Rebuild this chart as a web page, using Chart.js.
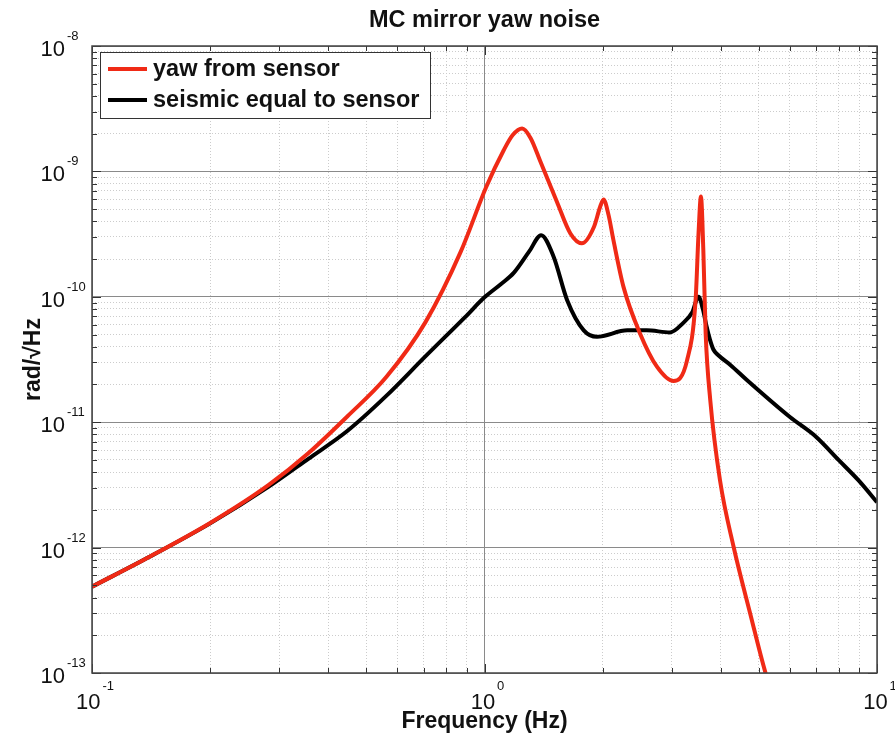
<!DOCTYPE html>
<html>
<head>
<meta charset="utf-8">
<script src="https://cdn.jsdelivr.net/npm/chart.js@4/dist/chart.umd.min.js"></script>
<style>
    body { margin: 0; background: #fff; }
    #wrap { width: 895px; height: 744px; }
</style>
</head>
<body>
<div id="wrap"><canvas id="noise" width="895" height="744"></canvas></div>
<script>
// Donnees (Hz, rad/sqrt(Hz))
const redFreq = [0.1, 0.141, 0.2, 0.282, 0.355, 0.447, 0.562, 0.708, 0.87, 1.01, 1.12, 1.18, 1.247, 1.31, 1.388, 1.53, 1.655, 1.77, 1.9, 1.97, 2.01, 2.07, 2.13, 2.26, 2.49, 2.75, 3.03, 3.28, 3.45, 3.51, 3.56, 3.61, 3.66, 3.76, 3.98, 4.31, 4.75, 5.2, 5.4];
const redVal = [4.88e-13, 8.53e-13, 1.57e-12, 3.16e-12, 5.62e-12, 1.11e-11, 2.29e-11, 6.31e-11, 2.29e-10, 7.5e-10, 1.48e-9, 1.95e-9, 2.2e-9, 1.85e-9, 1.2e-9, 5.7e-10, 3.2e-10, 2.67e-10, 3.6e-10, 5.2e-10, 5.98e-10, 4.5e-10, 2.84e-10, 1.2e-10, 5.1e-11, 2.77e-11, 2.13e-11, 3.1e-11, 9.4e-11, 3.2e-10, 6.3e-10, 2.36e-10, 5.1e-11, 1.5e-11, 3.46e-12, 1.02e-12, 3.0e-13, 1.0e-13, 7e-14];

const blackFreq = [0.1, 0.141, 0.2, 0.282, 0.355, 0.447, 0.562, 0.708, 0.891, 1.0, 1.1, 1.187, 1.3, 1.394, 1.5, 1.624, 1.79, 1.935, 2.31, 2.59, 2.97, 3.21, 3.38, 3.51, 3.6, 3.68, 3.75, 3.83, 3.95, 4.23, 4.66, 6.0, 6.99, 7.98, 9.0, 10];
const blackVal = [4.88e-13, 8.53e-13, 1.56e-12, 3.06e-12, 5.08e-12, 8.5e-12, 1.62e-11, 3.36e-11, 6.85e-11, 9.9e-11, 1.26e-10, 1.55e-10, 2.3e-10, 3.1e-10, 2.09e-10, 9.4e-11, 5.4e-11, 4.8e-11, 5.4e-11, 5.4e-11, 5.2e-11, 6.2e-11, 7.5e-11, 1.0e-10, 8.0e-11, 5.8e-11, 4.6e-11, 3.8e-11, 3.4e-11, 2.86e-11, 2.17e-11, 1.1e-11, 7.66e-12, 5.0e-12, 3.4e-12, 2.3e-12];

const seriesNames = ['yaw from sensor', 'seismic equal to sensor'];
const seriesColors = ['#f02a16', '#000000'];

const xDecades = [-1, 0, 1];
const yDecades = [-13, -12, -11, -10, -9, -8];

const chartTitle = 'MC mirror yaw noise';
const xTitle = 'Frequency (Hz)';
const yTitle = 'rad/\u221AHz';

const FONT = '"Liberation Sans", Arial, sans-serif';

// Graduations 1..9 x 10^n pour une echelle log
function logTicks(decades) {
    const ticks = [];
    for (let i = 0; i < decades.length; i++) {
        const d = decades[i];
        if (i === decades.length - 1) {
            ticks.push({ value: Math.pow(10, d) });
            break;
        }
        for (let m = 1; m <= 9; m++) {
            ticks.push({ value: m * Math.pow(10, d) });
        }
    }
    return ticks;
}

function isDecade(v) {
    const l = Math.log10(v);
    return Math.abs(l - Math.round(l)) < 1e-6;
}

function gridColor(ctx) {
    return ctx.tick && isDecade(ctx.tick.value) ? '#8a8a8a' : '#cccccc';
}

function gridDash(ctx) {
    return ctx.tick && isDecade(ctx.tick.value) ? [] : [1, 2];
}

// Ecrit 10^exp avec exposant sureleve ; x = bord droit du "10" ou centre
function drawPower(ctx, exp, x, y, align, raise) {
    const base = '10';
    const sup = String(exp);
    ctx.font = '22px ' + FONT;
    const wb = ctx.measureText(base).width;
    ctx.font = '13px ' + FONT;
    const ws = ctx.measureText(sup).width;
    let left;
    if (align === 'right') left = x - wb;
    else left = x - (wb + ws + 2) / 2 + 3;
    ctx.textAlign = 'left';
    ctx.textBaseline = 'alphabetic';
    ctx.fillStyle = '#111';
    ctx.font = '22px ' + FONT;
    ctx.fillText(base, left, y);
    ctx.font = '13px ' + FONT;
    ctx.fillText(sup, left + wb + 2, y - raise);
}

// Cadre, graduations internes, libelles, titre et legende facon MATLAB
const matlabFrame = {
    id: 'matlabFrame',
    afterDatasetsDraw(chart) {
        const ctx = chart.ctx;
        const area = chart.chartArea;
        const xs = chart.scales.x;
        const ys = chart.scales.y;
        ctx.save();

        // petites graduations a l'interieur du cadre
        ctx.strokeStyle = '#333';
        ctx.lineWidth = 1;
        xs.ticks.forEach(t => {
            const px = Math.round(xs.getPixelForValue(t.value)) + 0.5;
            const len = isDecade(t.value) ? 9 : 5;
            ctx.beginPath();
            ctx.moveTo(px, area.bottom);
            ctx.lineTo(px, area.bottom - len);
            ctx.moveTo(px, area.top);
            ctx.lineTo(px, area.top + len);
            ctx.stroke();
        });
        ys.ticks.forEach(t => {
            const py = Math.round(ys.getPixelForValue(t.value)) + 0.5;
            const len = isDecade(t.value) ? 9 : 5;
            ctx.beginPath();
            ctx.moveTo(area.left, py);
            ctx.lineTo(area.left + len, py);
            ctx.moveTo(area.right, py);
            ctx.lineTo(area.right - len, py);
            ctx.stroke();
        });

        // cadre
        ctx.strokeStyle = '#444';
        ctx.lineWidth = 1.5;
        ctx.strokeRect(area.left, area.top, area.right - area.left, area.bottom - area.top);

        // libelles des axes
        xDecades.forEach(d => {
            const px = xs.getPixelForValue(Math.pow(10, d));
            drawPower(ctx, d, px, area.bottom + 36, 'center', 19);
        });
        yDecades.forEach(d => {
            const py = ys.getPixelForValue(Math.pow(10, d));
            drawPower(ctx, d, area.left - 27, py + 10, 'right', 16);
        });

        ctx.fillStyle = '#111';
        ctx.textAlign = 'center';
        ctx.textBaseline = 'alphabetic';
        const cx = (area.left + area.right) / 2;
        ctx.font = 'bold 23.5px ' + FONT;
        ctx.fillText(chartTitle, cx, 27);
        ctx.font = 'bold 23px ' + FONT;
        ctx.fillText(xTitle, cx, area.bottom + 55);

        ctx.save();
        ctx.translate(40, (area.top + area.bottom) / 2);
        ctx.rotate(-Math.PI / 2);
        ctx.fillText(yTitle, 0, 0);
        ctx.restore();

        // legende
        const lx = area.left + 8, ly = area.top + 6, lw = 330, lh = 66;
        ctx.fillStyle = '#fff';
        ctx.fillRect(lx, ly, lw, lh);
        ctx.strokeStyle = '#333';
        ctx.lineWidth = 1;
        ctx.strokeRect(lx + 0.5, ly + 0.5, lw, lh);
        chart.data.datasets.forEach((ds, i) => {
            const yy = ly + 17 + i * 31;
            ctx.strokeStyle = ds.borderColor;
            ctx.lineWidth = 4;
            ctx.beginPath();
            ctx.moveTo(lx + 8, yy);
            ctx.lineTo(lx + 47, yy);
            ctx.stroke();
            ctx.fillStyle = '#111';
            ctx.font = 'bold 23.5px ' + FONT;
            ctx.textAlign = 'left';
            ctx.textBaseline = 'middle';
            ctx.fillText(ds.label, lx + 53, yy + 1);
        });

        ctx.restore();
    }
};

const datasets = [
    { freq: redFreq, vals: redVal },
    { freq: blackFreq, vals: blackVal }
].map((s, i) => ({
    label: seriesNames[i],
    data: s.freq.map((f, k) => ({ x: f, y: s.vals[k] })),
    borderColor: seriesColors[i],
    backgroundColor: seriesColors[i],
    borderWidth: 4,
    pointRadius: 0,
    showLine: true,
    cubicInterpolationMode: 'monotone',
    order: i === 0 ? 0 : 1
}));

const ctxNoise = document.getElementById('noise').getContext('2d');
new Chart(ctxNoise, {
    type: 'scatter',
    data: { datasets: datasets },
    options: {
        responsive: false,
        animation: false,
        layout: { padding: { left: 92, right: 18, top: 46, bottom: 71 } },
        plugins: {
            legend: { display: false },
            tooltip: { enabled: false },
            title: { display: false }
        },
        scales: {
            x: {
                type: 'logarithmic',
                min: 0.1,
                max: 10,
                afterBuildTicks: scale => { scale.ticks = logTicks(xDecades); },
                ticks: { display: false, autoSkip: false },
                grid: { color: gridColor, lineWidth: 1, drawTicks: false },
                border: { display: false, dash: gridDash }
            },
            y: {
                type: 'logarithmic',
                min: 1e-13,
                max: 1e-8,
                afterBuildTicks: scale => { scale.ticks = logTicks(yDecades); },
                ticks: { display: false, autoSkip: false },
                grid: { color: gridColor, lineWidth: 1, drawTicks: false },
                border: { display: false, dash: gridDash }
            }
        }
    },
    plugins: [matlabFrame]
});
</script>
</body>
</html>
